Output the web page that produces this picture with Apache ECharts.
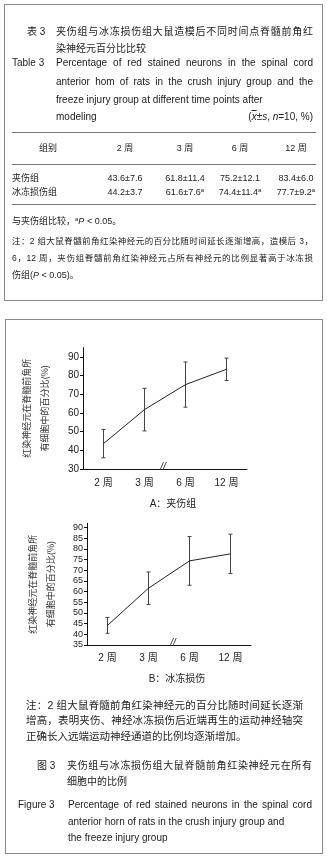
<!DOCTYPE html>
<html>
<head>
<meta charset="utf-8">
<script src="https://cdn.jsdelivr.net/npm/echarts@6/dist/echarts.min.js"></script>
<style>
html, body { margin: 0; padding: 0; background: #fff; }
#page { position: relative; width: 327px; height: 861px; overflow: hidden;
  font-family: "Liberation Sans", "Noto Sans CJK SC", sans-serif; color: #222; }
#chart { position: absolute; left: 0; top: 0; width: 327px; height: 861px; }
.box { position: absolute; border: 1px solid #8a8a8a; box-sizing: border-box; }
.t { position: absolute; white-space: nowrap; }
.j { white-space: normal; text-align: justify; text-align-last: justify; }
.hr { position: absolute; height: 0; border-top: 1px solid #777; }
.sup { font-size: 6px; position: relative; top: -3px; }
</style>
</head>
<body>
<div id="page">
  <div class="box" style="left:4px;top:4px;width:319px;height:297px"></div>
  <div class="box" style="left:5px;top:319px;width:318px;height:535px"></div>
  <div id="chart"></div>
</div>
<script>
// 数据
var weeks = ['2 周', '3 周', '6 周', '12 周']
var crushMean = [43.6, 61.8, 75.2, 83.4]
var crushSd = [7.6, 11.4, 12.1, 6.0]
var freezeMean = [44.2, 61.6, 74.4, 77.7]
var freezeSd = [3.7, 7.6, 11.4, 9.2]
var crushText = ['43.6±7.6', '61.8±11.4', '75.2±12.1', '83.4±6.0']
var freezeText = ['44.2±3.7', '61.6±7.6<span class="sup">a</span>', '74.4±11.4<span class="sup">a</span>', '77.7±9.2<span class="sup">a</span>']
var yTicksA = [30, 40, 50, 60, 70, 80, 90]
var yTicksB = [35, 40, 45, 50, 55, 60, 65, 70, 75, 80, 85, 90]

var page = document.getElementById('page')

// 放一行文字，y 为中线
function T (html, x, y, size, opt) {
  opt = opt || {}
  var d = document.createElement('div')
  d.className = 't' + (opt.w && !opt.align ? ' j' : '')
  d.innerHTML = html
  var lh = Math.round(size * 1.4)
  d.style.fontSize = size + 'px'
  d.style.lineHeight = lh + 'px'
  d.style.height = lh + 'px'
  d.style.top = (y - lh / 2) + 'px'
  if (opt.align === 'center') {
    d.style.left = (x - 40) + 'px'; d.style.width = '80px'; d.style.textAlign = 'center'
  } else if (opt.align === 'right') {
    d.style.left = (x - 150) + 'px'; d.style.width = '150px'; d.style.textAlign = 'right'
  } else {
    d.style.left = x + 'px'
    if (opt.w) d.style.width = opt.w + 'px'
  }
  page.appendChild(d)
}
function HR (x1, x2, y) {
  var d = document.createElement('div')
  d.className = 'hr'
  d.style.left = x1 + 'px'; d.style.width = (x2 - x1) + 'px'; d.style.top = y + 'px'
  page.appendChild(d)
}

// 表 3
T('表 3', 27, 32, 10)
T('夹伤组与冰冻损伤组大鼠造模后不同时间点脊髓前角红', 56, 32, 10, { w: 257 })
T('染神经元百分比比较', 56, 49, 10)
T('Table 3', 12, 63, 10)
T('Percentage of red stained neurons in the spinal cord', 56, 63, 10, { w: 257 })
T('anterior hom of rats in the crush injury group and the', 56, 82, 10, { w: 257 })
T('freeze injury group at different time points after', 56, 100, 10)
T('modeling', 56, 117, 10)
T('(<i style="text-decoration:overline">x</i>±<i>s</i>, <i>n</i>=10, %)', 313, 117, 10, { align: 'right' })

HR(12, 316, 132)
var colX = [125, 185, 240, 296]
T('组别', 48, 148, 9, { align: 'center' })
weeks.forEach(function (w, i) { T(w, colX[i], 148, 9, { align: 'center' }) })
HR(12, 316, 164)
T('夹伤组', 12, 178, 9)
T('冰冻损伤组', 12, 192, 9)
crushText.forEach(function (s, i) { T(s, colX[i], 178, 9, { align: 'center' }) })
freezeText.forEach(function (s, i) { T(s, colX[i], 192, 9, { align: 'center' }) })
HR(12, 316, 204)
T('与夹伤组比较，<span class="sup">a</span><i>P</i> &lt; 0.05。', 12, 221, 9)
T('注：2 组大鼠脊髓前角红染神经元的百分比随时间延长逐渐增高，造模后 3，', 12, 241, 8.5, { w: 301 })
T('6，12 周，夹伤组脊髓前角红染神经元占所有神经元的比例显著高于冰冻损', 12, 258, 8.5, { w: 301 })
T('伤组(<i>P</i> &lt; 0.05)。', 12, 275, 9)

// 图注
T('A：夹伤组', 173, 504, 10, { align: 'center' })
T('B：冰冻损伤', 177, 679, 10, { align: 'center' })
T('注：2 组大鼠脊髓前角红染神经元的百分比随时间延长逐渐', 26, 705, 10.5, { w: 277 })
T('增高，表明夹伤、神经冰冻损伤后近端再生的运动神经轴突', 26, 720, 10.5, { w: 277 })
T('正确长入远端运动神经通道的比例均逐渐增加。', 26, 736, 10.5)
T('图 3', 37, 766, 10)
T('夹伤组与冰冻损伤组大鼠脊髓前角红染神经元在所有', 67, 766, 10, { w: 245 })
T('细胞中的比例', 67, 782, 10)
T('Figure 3', 18, 805, 10)
T('Percentage of red stained neurons in the spinal cord', 68, 805, 10, { w: 244 })
T('anterior horn of rats in the crush injury group and', 68, 822, 10)
T('the freeze injury group', 68, 838, 10)

// 误差线
function errBar (params, api) {
  var x = api.value(0)
  var lo = api.coord([x, api.value(1)])
  var hi = api.coord([x, api.value(2)])
  var w = 2
  var st = { stroke: '#444', lineWidth: 1 }
  return {
    type: 'group',
    children: [
      { type: 'line', shape: { x1: lo[0], y1: lo[1], x2: hi[0], y2: hi[1] }, style: st },
      { type: 'line', shape: { x1: hi[0] - w, y1: hi[1], x2: hi[0] + w, y2: hi[1] }, style: st },
      { type: 'line', shape: { x1: lo[0] - w, y1: lo[1], x2: lo[0] + w, y2: lo[1] }, style: st }
    ]
  }
}
function errData (mean, sd) {
  return mean.map(function (m, i) { return [i, m - sd[i], m + sd[i]] })
}

var yName = '红染神经元在脊髓前角所\n有细胞中的百分比(%)'
function xAxis (gi, margin) {
  return {
    type: 'category', gridIndex: gi, data: weeks, boundaryGap: true,
    axisLine: { lineStyle: { color: '#111', width: 1 } },
    axisTick: { alignWithLabel: true, length: 3, lineStyle: { color: '#111' } },
    axisLabel: { color: '#222', fontSize: 10, margin: margin, fontFamily: 'Liberation Sans, Noto Sans CJK SC' }
  }
}
function yAxis (gi, min, max, ticks, gap, fs) {
  return {
    type: 'value', gridIndex: gi, min: min, max: max,
    name: yName, nameLocation: 'middle', nameRotate: 90, nameGap: gap,
    nameTextStyle: { fontSize: 9, lineHeight: 18, color: '#333', fontFamily: 'Noto Sans CJK SC' },
    splitLine: { show: false },
    axisLine: { show: true, lineStyle: { color: '#111', width: 1 } },
    axisTick: { show: true, length: 3, customValues: ticks, lineStyle: { color: '#111' } },
    axisLabel: { customValues: ticks, color: '#222', fontSize: fs, margin: 4, fontFamily: 'Liberation Sans' }
  }
}

var myChart = echarts.init(document.getElementById('chart'), null, { renderer: 'canvas' })
myChart.setOption({
  animation: false,
  grid: [
    { left: 83, top: 347.6, width: 164, height: 121.4 },
    { left: 87, top: 523.3, width: 164, height: 121.7 }
  ],
  xAxis: [xAxis(0, 9), xAxis(1, 8)],
  yAxis: [yAxis(0, 30, 95, yTicksA, 29, 10), yAxis(1, 35, 92, yTicksB, 27, 9)],
  series: [
    { type: 'line', xAxisIndex: 0, yAxisIndex: 0, data: crushMean, symbol: 'none',
      lineStyle: { color: '#222', width: 1 } },
    { type: 'custom', xAxisIndex: 0, yAxisIndex: 0, data: errData(crushMean, crushSd), renderItem: errBar },
    { type: 'line', xAxisIndex: 1, yAxisIndex: 1, data: freezeMean, symbol: 'none',
      lineStyle: { color: '#222', width: 1 } },
    { type: 'custom', xAxisIndex: 1, yAxisIndex: 1, data: errData(freezeMean, freezeSd), renderItem: errBar }
  ]
})

// 坐标轴断开符号 //
var g = []
;[[0, 30, -2], [1, 35, 4]].forEach(function (c) {
  var p1 = myChart.convertToPixel({ gridIndex: c[0] }, [1, c[1]])
  var p2 = myChart.convertToPixel({ gridIndex: c[0] }, [2, c[1]])
  g.push({ type: 'text', x: (p1[0] + p2[0]) / 2 + c[2], y: p1[1] - 2,
    style: { text: '//', fill: '#222', align: 'center', verticalAlign: 'middle', font: 'italic 10px Liberation Sans' } })
})
myChart.setOption({ graphic: g })
</script>
</body>
</html>
